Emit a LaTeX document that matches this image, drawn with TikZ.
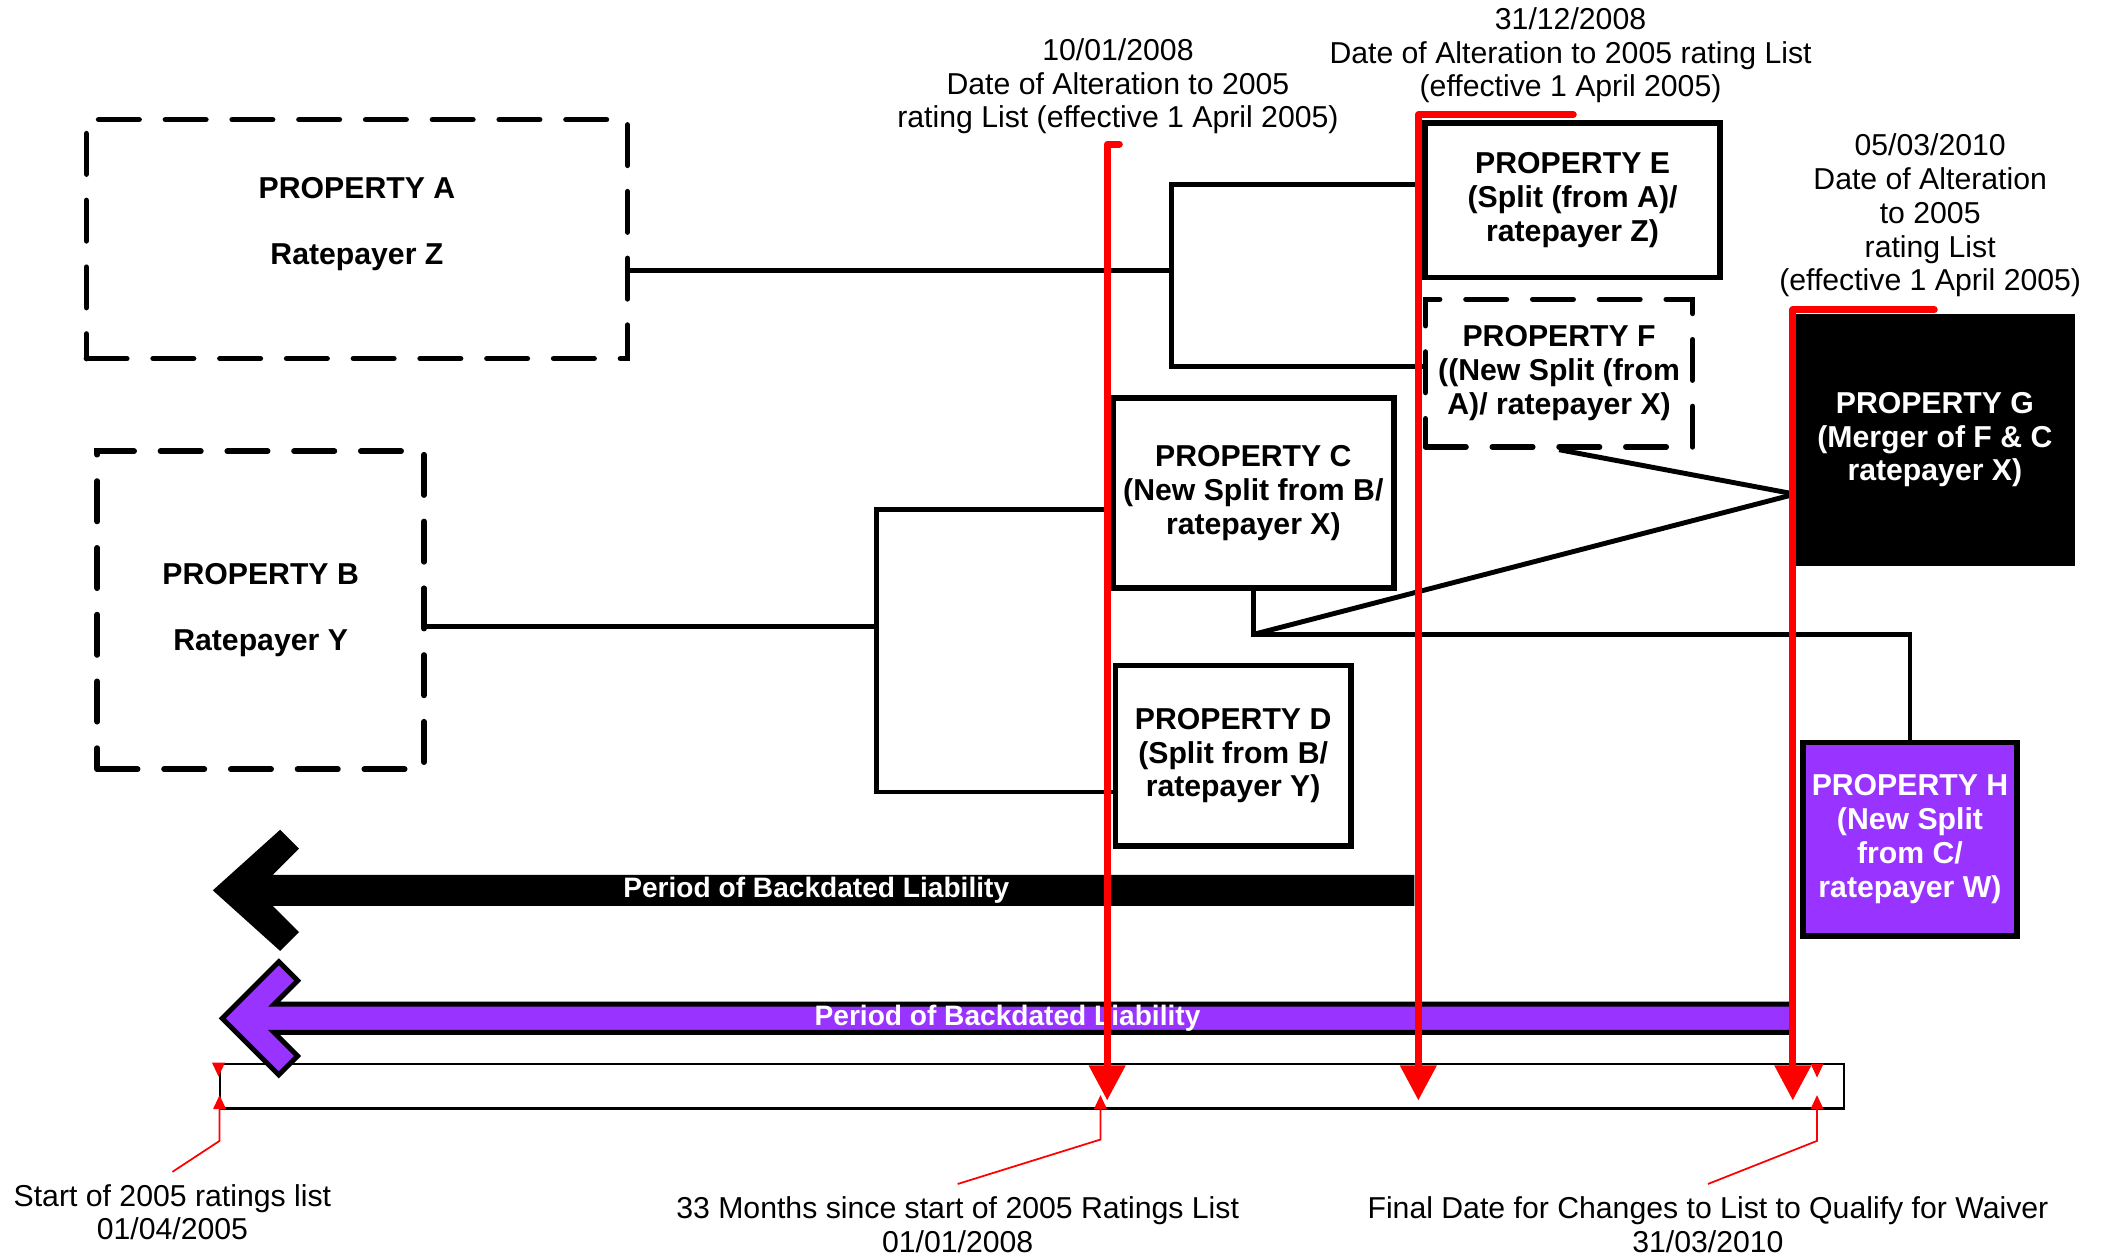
\documentclass[tikz,border=0pt]{standalone}
\usepackage{fontspec}
\setmainfont{Liberation Sans}
\usepackage{tikz}
\usetikzlibrary{arrows.meta,calc,positioning}
\definecolor{rlRed}{HTML}{FF0000}
\definecolor{rlPurple}{HTML}{9933FF}
\definecolor{rlInk}{HTML}{000000}
\tikzset{
  rl diagram/.style={font=\fontsize{8.6}{9.6}\selectfont, text=rlInk},
  rl box/.style={draw=rlInk, fill=white, line width=1.6pt, align=center,
    inner sep=2pt, font=\fontsize{8.6}{9.6}\selectfont\bfseries},
  rl dashed box/.style={rl box, line cap=round, dash pattern=on 11.5pt off 7.5pt},
  rl link/.style={draw=rlInk, line width=1.4pt},
  rl date/.style={draw=rlRed, line width=2pt, line cap=round, line join=round,
    -{Triangle[width=10pt,length=10pt]}},
  rl mark/.style={draw=rlRed, line width=0.5pt, -{Triangle[width=3.6pt,length=4pt]}},
  rl label/.style={align=center},
  rl period/.style={font=\fontsize{8}{9.6}\selectfont\bfseries, text=white, inner sep=1pt}
}

\begin{document}
\begin{tikzpicture}[rl diagram, x=0.01347cm, y=-0.01347cm]
\useasboundingbox (0,0) rectangle (1568,933);
% properties
\node[rl dashed box,minimum width=154pt,minimum height=68pt,text depth=10.2pt] (A) at (265,177.5) {PROPERTY A\\[9.2pt]Ratepayer Z};
\node[rl dashed box,minimum width=93pt,minimum height=90.5pt] (B) at (193.5,453) {PROPERTY B\\[9.2pt]Ratepayer Y};
\node[rl box,minimum width=84pt,minimum height=44pt] (E) at (1167.5,148.5) {PROPERTY E\\(Split (from A)/\\ratepayer Z)};
\node[rl dashed box,minimum width=76pt,minimum height=42pt] (F) at (1157.5,277) {PROPERTY F\\((New Split (from\\A)/ ratepayer X)};
\node[rl box,minimum width=80pt,minimum height=54pt] (C) at (930.5,366) {PROPERTY C\\(New Split from B/\\ratepayer X)};
\node[rl box,minimum width=67pt,minimum height=51.4pt] (D) at (915.5,561) {PROPERTY D\\(Split from B/\\ratepayer Y)};
\node[rl box,fill=black,text=white,minimum width=78pt,minimum height=70pt] (G) at (1436.5,326.5) {PROPERTY G\\(Merger of F \& C\\ratepayer X)};
\node[rl box,fill=rlPurple,text=white,minimum width=61pt,minimum height=55pt] (H) at (1418,623) {PROPERTY H\\(New Split\\from C/\\ratepayer W)};
% splits and merger
\coordinate (aJ) at (870,201);
\coordinate (aE) at (870,137);
\coordinate (aF) at (870,272);
\draw[rl link] (A.east |- aJ) -- (aJ);
\draw[rl link] (E.west |- aE) -- (aE) -- (aF) -- (F.west |- aF);
\coordinate (bJ) at (651,465);
\coordinate (bC) at (651,378);
\coordinate (bD) at (651,588);
\draw[rl link] (B.east |- bJ) -- (bJ);
\draw[rl link] (C.west |- bC) -- (bC) -- (bD) -- (D.west |- bD);
\coordinate (cJ) at (C.south |- 0,471);
\coordinate (gIn) at ($(G.north west)!0.716!(G.south west)$);
\draw[rl link] (C.south) -- (cJ) -| (H.north);
\draw[rl link] (cJ) -- (gIn);
\draw[rl link] (F.south) -- (gIn);
% time line
\node[draw=rlInk,line width=0.6pt,minimum width=462.3pt,minimum height=12.6pt,inner sep=0pt] (tl) at (766,806.5) {};
\fill[black] (158,661) -- (208,616) -- (222,630) -- (202.5,649.5) -- (1050,649.5) -- (1050,672.5)
  -- (202.5,672.5) -- (222,692) -- (208,706) -- cycle;
\node[rl period] (pBlack) at (606,661) {Period of Backdated Liability};
\draw[fill=rlPurple,line width=1.4pt,line join=miter] (165,756) -- (207,714) -- (221,728) -- (203.5,745.5)
  -- (1331,745.5) -- (1331,766.5) -- (203.5,766.5) -- (221,784) -- (207,798) -- cycle;
\node[rl period] (pPurple) at (748,756) {Period of Backdated Liability};
% dates on the list
\node[rl label,anchor=north] (lStart) at (128,870) {Start of 2005 ratings list\\01/04/2005};
\node[rl label,anchor=north] (lMonths) at (711,879) {33 Months since start of 2005 Ratings List\\01/01/2008};
\node[rl label,anchor=north] (lFinal) at (1268,879) {Final Date for Changes to List to Qualify for Waiver\\31/03/2010};
\draw[rl mark] (tl.north west) -- ++(0,10);
\draw[rl mark] (lStart.north) -- (163,847) -- (163,813);
\draw[rl mark] (lMonths.north) -- (817,846) -- (817,813);
\draw[rl mark] (1349,790) -- ++(0,10);
\draw[rl mark] (lFinal.north) -- (1349,847) -- (1349,813);
% alterations
\node[rl label] (d1) at (830,64) {10/01/2008\\Date of Alteration to 2005\\rating List (effective 1 April 2005)};
\node[rl label] (d2) at (1166,41) {31/12/2008\\Date of Alteration to 2005 rating List\\(effective 1 April 2005)};
\node[rl label] (d3) at (1433,160) {05/03/2010\\Date of Alteration\\to 2005\\rating List\\(effective 1 April 2005)};
\coordinate (r1) at (822,107);
\coordinate (r2) at (1053,85);
\coordinate (r3) at (1331,230);
\coordinate (t1) at (822,817);
\coordinate (t2) at (1053,817);
\coordinate (t3) at (1331,817);
\draw[rl date] ($(r1)+(9,0)$) -- (r1) -- (t1);
\draw[rl date] ($(r2)+(115,0)$) -- (r2) -- (t2);
\draw[rl date] ($(r3)+(105,0)$) -- (r3) -- (t3);
\end{tikzpicture}
\end{document}
